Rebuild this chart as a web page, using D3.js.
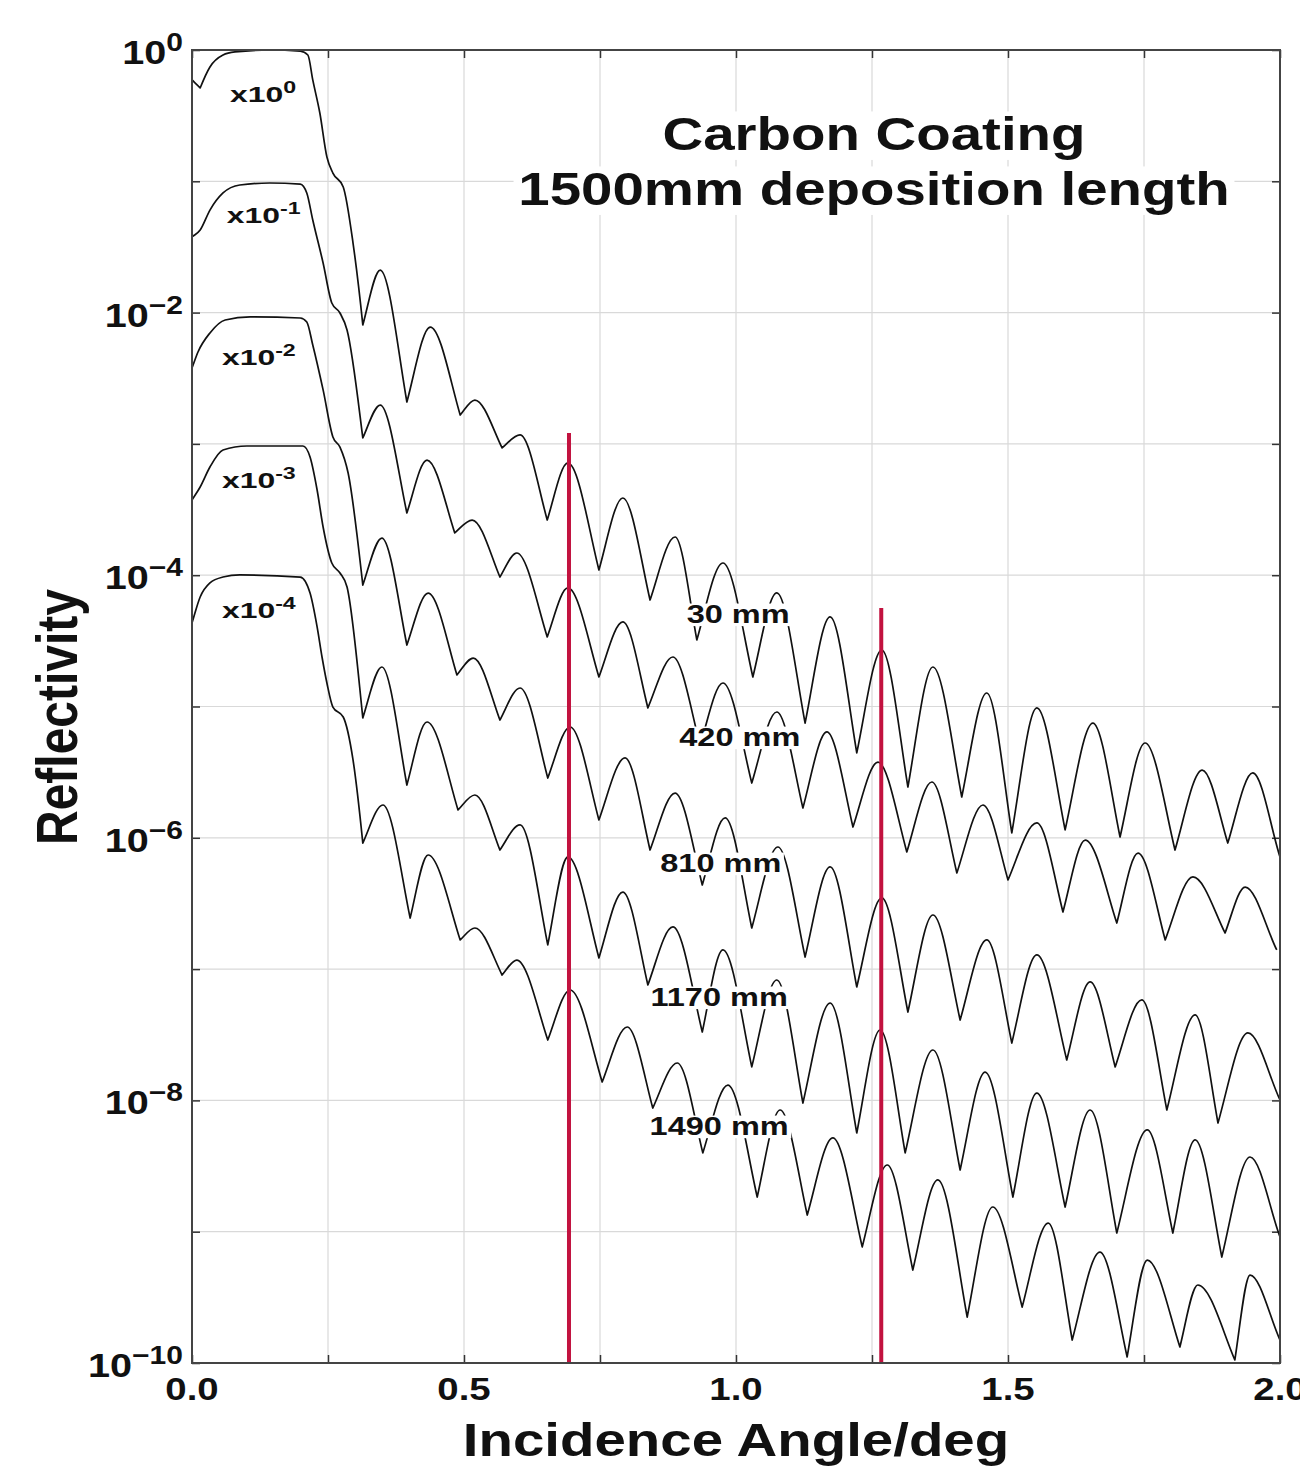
<!DOCTYPE html>
<html lang="en">
<head>
<meta charset="UTF-8">
<title>Carbon Coating - Reflectivity vs Incidence Angle</title>
<script src="https://d3js.org/d3.v7.min.js"></script>
<style>
  body { margin: 0; background: #fff; }
  svg text { font-family: "Liberation Sans", Arial, sans-serif; font-weight: bold; fill: #111; }
</style>
</head>
<body>
<svg width="1300" height="1467"></svg>
<script>
// curves as drawn (already multiplied by their x10^-n factor): [angle in deg, log10 reflectivity]
const curve30 = [[0,-0.228],[0.015,-0.289],[0.033,-0.129],[0.057,-0.038],[0.079,-0.015],[0.143,0],[0.199,-0.008],[0.213,-0.038],[0.222,-0.228],[0.235,-0.48],[0.248,-0.815],[0.259,-0.937],[0.278,-1.043],[0.296,-1.47],[0.314,-2.094],[0.346,-1.676],[0.395,-2.681],[0.438,-2.11],[0.493,-2.78],[0.52,-2.666],[0.57,-3.031],[0.603,-2.932],[0.653,-3.58],[0.691,-3.145],[0.748,-3.96],[0.792,-3.412],[0.842,-4.189],[0.888,-3.709],[0.928,-4.493],[0.976,-3.907],[1.031,-4.775],[1.075,-4.135],[1.127,-5.126],[1.173,-4.318],[1.222,-5.353],[1.268,-4.57],[1.316,-5.613],[1.362,-4.699],[1.415,-5.689],[1.461,-4.897],[1.507,-5.963],[1.553,-5.011],[1.605,-5.94],[1.656,-5.126],[1.706,-5.994],[1.752,-5.278],[1.807,-6.093],[1.857,-5.484],[1.904,-6.04],[1.95,-5.506],[2.0,-6.146]];
const curve420 = [[0,-1.424],[0.015,-1.371],[0.033,-1.219],[0.057,-1.089],[0.088,-1.028],[0.143,-1.013],[0.199,-1.021],[0.211,-1.089],[0.222,-1.295],[0.241,-1.622],[0.257,-1.927],[0.272,-2.003],[0.285,-2.132],[0.314,-2.955],[0.346,-2.704],[0.395,-3.526],[0.432,-3.123],[0.483,-3.678],[0.515,-3.58],[0.566,-4.014],[0.597,-3.831],[0.653,-4.47],[0.691,-4.097],[0.748,-4.775],[0.792,-4.356],[0.838,-5.011],[0.884,-4.623],[0.934,-5.293],[0.976,-4.821],[1.029,-5.583],[1.075,-5.042],[1.123,-5.773],[1.167,-5.194],[1.215,-5.918],[1.261,-5.423],[1.314,-6.108],[1.36,-5.575],[1.406,-6.268],[1.454,-5.75],[1.5,-6.321],[1.553,-5.887],[1.601,-6.565],[1.642,-6.017],[1.7,-6.649],[1.739,-6.116],[1.789,-6.778],[1.84,-6.298],[1.899,-6.725],[1.936,-6.375],[1.994,-6.854]];
const curve810 = [[0,-2.422],[0.011,-2.3],[0.033,-2.155],[0.061,-2.056],[0.107,-2.033],[0.199,-2.041],[0.211,-2.072],[0.222,-2.247],[0.241,-2.589],[0.259,-2.947],[0.272,-3.024],[0.287,-3.222],[0.314,-4.075],[0.349,-3.717],[0.395,-4.532],[0.434,-4.136],[0.487,-4.76],[0.517,-4.631],[0.566,-5.103],[0.603,-4.859],[0.654,-5.545],[0.695,-5.156],[0.748,-5.864],[0.796,-5.392],[0.842,-6.093],[0.888,-5.659],[0.938,-6.359],[0.98,-5.849],[1.029,-6.687],[1.077,-6.07],[1.127,-6.908],[1.173,-6.222],[1.222,-7.136],[1.268,-6.458],[1.316,-7.327],[1.362,-6.588],[1.412,-7.388],[1.461,-6.778],[1.507,-7.563],[1.553,-6.892],[1.608,-7.692],[1.651,-7.098],[1.697,-7.745],[1.746,-7.235],[1.792,-8.073],[1.844,-7.349],[1.886,-8.172],[1.941,-7.486],[2.0,-7.997]];
const curve1170 = [[0,-3.427],[0.015,-3.328],[0.033,-3.176],[0.057,-3.046],[0.101,-3.016],[0.204,-3.016],[0.217,-3.1],[0.23,-3.351],[0.241,-3.633],[0.257,-3.907],[0.272,-3.983],[0.285,-4.09],[0.314,-5.087],[0.349,-4.699],[0.395,-5.598],[0.432,-5.118],[0.489,-5.788],[0.52,-5.674],[0.566,-6.093],[0.603,-5.902],[0.654,-6.816],[0.691,-6.146],[0.748,-6.915],[0.792,-6.413],[0.838,-7.121],[0.884,-6.679],[0.938,-7.479],[0.976,-6.854],[1.029,-7.745],[1.075,-7.083],[1.123,-8.02],[1.173,-7.258],[1.222,-8.248],[1.265,-7.464],[1.311,-8.4],[1.362,-7.616],[1.412,-8.53],[1.458,-7.784],[1.509,-8.736],[1.553,-7.944],[1.605,-8.812],[1.651,-8.073],[1.7,-9.01],[1.756,-8.225],[1.803,-9.01],[1.844,-8.301],[1.893,-9.193],[1.945,-8.431],[2.0,-9.04]];
const curve1490 = [[0,-4.364],[0.015,-4.166],[0.033,-4.059],[0.057,-4.014],[0.088,-3.998],[0.199,-4.014],[0.217,-4.136],[0.23,-4.394],[0.239,-4.623],[0.248,-4.821],[0.259,-5.004],[0.278,-5.08],[0.296,-5.407],[0.314,-6.04],[0.351,-5.75],[0.401,-6.611],[0.434,-6.131],[0.493,-6.778],[0.52,-6.687],[0.57,-7.045],[0.597,-6.931],[0.654,-7.54],[0.695,-7.159],[0.754,-7.86],[0.8,-7.441],[0.847,-8.058],[0.892,-7.715],[0.939,-8.4],[0.985,-7.883],[1.039,-8.736],[1.081,-8.073],[1.131,-8.873],[1.178,-8.286],[1.232,-9.116],[1.278,-8.492],[1.325,-9.292],[1.371,-8.606],[1.425,-9.65],[1.472,-8.812],[1.526,-9.574],[1.574,-8.934],[1.618,-9.825],[1.669,-9.155],[1.719,-9.954],[1.756,-9.216],[1.816,-9.878],[1.849,-9.406],[1.917,-9.977],[1.945,-9.33],[2.0,-9.825]];

const curves = [curve30, curve420, curve810, curve1170, curve1490];
const curveNames = ["30 mm", "420 mm", "810 mm", "1170 mm", "1490 mm"];
const factorExps = ["0", "-1", "-2", "-3", "-4"];

// red marker lines: angle and top (log10)
const markerAngles = [0.693, 1.267];
const markerTops = [-2.917, -4.25];

const xTicks = [0, 0.25, 0.5, 0.75, 1.0, 1.25, 1.5, 1.75, 2.0];
const xLabels = ["0.0", "0.5", "1.0", "1.5", "2.0"];
const yDecades = [0, -1, -2, -3, -4, -5, -6, -7, -8, -9, -10];
const yLabelExps = [0, -2, -4, -6, -8, -10];

const svg = d3.select("svg");
const pL = 192, pT = 50, pR = 1280, pB = 1363;
const SX = 1.2; // the figure's lettering is stretched horizontally

const x = d3.scaleLinear().domain([0, 2]).range([pL, pR]);
const y = d3.scaleLog().domain([1e-10, 1]).range([pB, pT]);
const yl = e => y(Math.pow(10, e));

function txt(g, px, py, s, size, anchor, rot, sx) {
  return g.append("text")
    .attr("transform", `translate(${px},${py}) scale(${sx || SX},1)` + (rot ? ` rotate(${rot})` : ""))
    .attr("font-size", size)
    .attr("text-anchor", anchor || "start")
    .text(s);
}

// fringes: round tops, V-shaped minima (cubic segments, flat tangent at maxima, straight flanks at minima)
function fringePath(data) {
  const p = data.map(d => [x(d[0]), yl(d[1])]);
  const n = p.length, m = new Array(n);
  for (let i = 0; i < n; i++) {
    if (i === 0) { m[i] = (p[1][1] - p[0][1]) / (p[1][0] - p[0][0]); continue; }
    if (i === n - 1) { m[i] = (p[i][1] - p[i - 1][1]) / (p[i][0] - p[i - 1][0]); continue; }
    const h0 = p[i][0] - p[i - 1][0], h1 = p[i + 1][0] - p[i][0];
    const s0 = (p[i][1] - p[i - 1][1]) / h0, s1 = (p[i + 1][1] - p[i][1]) / h1;
    if (s0 < 0 && s1 > 0) m[i] = 0;
    else if (s0 > 0 && s1 < 0) m[i] = null;
    else {
      let t = (s0 * h1 + s1 * h0) / (h0 + h1);
      const lim = 2 * Math.min(Math.abs(s0), Math.abs(s1));
      if (Math.abs(t) > lim) t = Math.sign(t) * lim;
      m[i] = t;
    }
  }
  const path = d3.path();
  path.moveTo(p[0][0], p[0][1]);
  for (let i = 0; i < n - 1; i++) {
    const [x0, y0] = p[i], [x1, y1] = p[i + 1], dx = (x1 - x0) / 3;
    const sec = (y1 - y0) / (x1 - x0);
    const m0 = m[i] === null ? sec * 1.15 : m[i];
    const m1 = m[i + 1] === null ? sec * 1.15 : m[i + 1];
    path.bezierCurveTo(x0 + dx, y0 + m0 * dx, x1 - dx, y1 - m1 * dx, x1, y1);
  }
  return path.toString();
}

// grid
const grid = svg.append("g").attr("stroke", "#d9d9d9").attr("stroke-width", 1.2);
grid.selectAll(".gx").data(xTicks.slice(1, -1)).enter().append("line")
  .attr("x1", d => x(d)).attr("x2", d => x(d)).attr("y1", pT).attr("y2", pB);
grid.selectAll(".gy").data(yDecades.slice(1, -1)).enter().append("line")
  .attr("x1", pL).attr("x2", pR).attr("y1", d => yl(d)).attr("y2", d => yl(d));

// inward ticks
const tk = 8;
svg.append("g").attr("transform", `translate(0,${pB})`)
  .call(d3.axisBottom(x).tickValues(xTicks).tickSize(-tk).tickFormat(""));
svg.append("g").attr("transform", `translate(0,${pT})`)
  .call(d3.axisTop(x).tickValues(xTicks).tickSize(-tk).tickFormat(""));
svg.append("g").attr("transform", `translate(${pL},0)`)
  .call(d3.axisLeft(y).tickValues(yDecades.map(e => Math.pow(10, e))).tickSize(-tk).tickFormat(""));
svg.append("g").attr("transform", `translate(${pR},0)`)
  .call(d3.axisRight(y).tickValues(yDecades.map(e => Math.pow(10, e))).tickSize(-tk).tickFormat(""));
svg.selectAll(".domain").remove();
svg.selectAll(".tick line").attr("stroke", "#333").attr("stroke-width", 1.5);

// title with white backing
const tg = svg.append("g");
const t1 = txt(tg, 874, 150, "Carbon Coating", 47, "middle");
const t2 = txt(tg, 874, 205, "1500mm deposition length", 47, "middle");
[t1, t2].forEach(t => {
  const b = t.node().getBBox();
  tg.insert("rect", "text").attr("transform", t.attr("transform"))
    .attr("x", b.x - 4).attr("y", b.y + 4).attr("width", b.width + 8).attr("height", b.height - 4)
    .attr("fill", "#fff");
});

// curves
svg.append("clipPath").attr("id", "plot").append("rect")
  .attr("x", pL).attr("y", pT).attr("width", pR - pL).attr("height", pB - pT);
svg.append("g").attr("clip-path", "url(#plot)")
  .selectAll("path").data(curves).enter().append("path")
  .attr("d", fringePath)
  .attr("fill", "none")
  .attr("stroke", "#111")
  .attr("stroke-width", 1.7)
  .attr("stroke-linejoin", "round");

// red markers
svg.append("g").selectAll("line").data(markerAngles).enter().append("line")
  .attr("x1", d => x(d)).attr("x2", d => x(d))
  .attr("y1", (d, i) => yl(markerTops[i])).attr("y2", pB)
  .attr("stroke", "#c2123f").attr("stroke-width", 4);

// factor labels x10^n
const factorPos = [[0.07, -0.396], [0.064, -1.318], [0.055, -2.399], [0.055, -3.336], [0.055, -4.326]];
factorExps.forEach((e, i) => {
  const t = txt(svg, x(factorPos[i][0]), yl(factorPos[i][1]), "", 22, "start", 0, 1.45);
  t.append("tspan").text("x10");
  t.append("tspan").attr("dy", -9).attr("font-size", 16).text(e);
});

// curve name labels with white backing
const namePos = [[1.004, -4.295], [1.007, -5.232], [0.972, -6.192], [0.969, -7.212], [0.969, -8.195]];
curveNames.forEach((n, i) => {
  const g = svg.append("g");
  const t = txt(g, x(namePos[i][0]), yl(namePos[i][1]) + 9, n, 25, "middle", 0, 1.3);
  const b = t.node().getBBox();
  g.insert("rect", "text").attr("transform", t.attr("transform"))
    .attr("x", b.x - 2).attr("y", b.y + 3).attr("width", b.width + 4).attr("height", b.height - 5)
    .attr("fill", "#fff");
});

// frame
svg.append("rect").attr("x", pL).attr("y", pT).attr("width", pR - pL).attr("height", pB - pT)
  .attr("fill", "none").attr("stroke", "#444").attr("stroke-width", 2);

// y tick labels
yLabelExps.forEach(e => {
  const t = txt(svg, 183, yl(e) + 14, "", 33, "end");
  t.append("tspan").text("10");
  t.append("tspan").attr("dy", -13).attr("font-size", 25).text(e === 0 ? "0" : "\u2212" + (-e));
});

// x tick labels
xLabels.forEach(s => txt(svg, x(+s), 1400, s, 32, "middle"));

// axis titles
txt(svg, x(1.0), 1456, "Incidence Angle/deg", 47, "middle");
txt(svg, 77, 717, "Reflectivity", 48, "middle", -90);
</script>
</body>
</html>
